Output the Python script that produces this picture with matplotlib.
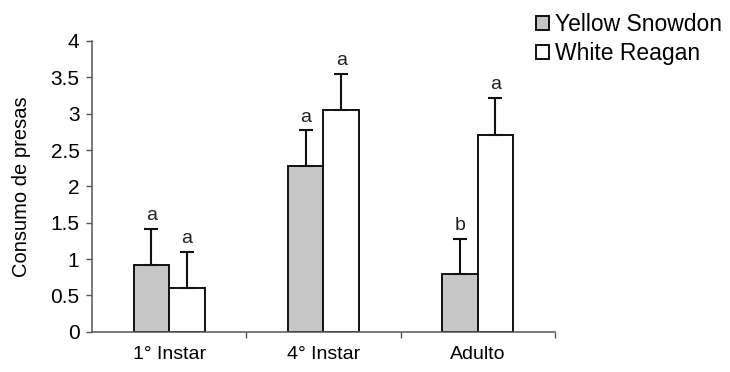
import numpy as np
import matplotlib.pyplot as plt
from matplotlib.patches import Patch

# values
stages = ['1° Instar', '4° Instar', 'Adulto']
series = ['Yellow Snowdon', 'White Reagan']
yellow_mean = [0.92, 2.28, 0.80]
yellow_err = [0.50, 0.49, 0.48]
white_mean = [0.60, 3.05, 2.70]
white_err = [0.50, 0.50, 0.52]
yellow_letters = ['a', 'a', 'b']
white_letters = ['a', 'a', 'a']

plt.rcParams['font.family'] = ['Liberation Sans', 'DejaVu Sans']

fig = plt.figure(figsize=(7.3, 3.72), dpi=100)
ax = fig.add_axes([0.126, 0.108, 0.634, 0.782])

x = np.arange(len(stages))
w = 0.23
gray = '#c6c6c6'
err_kw = dict(ecolor='#111111', elinewidth=1.5, capsize=5, capthick=1.5)

ax.bar(x - w / 2, yellow_mean, w, color=gray, edgecolor='#111111', linewidth=1.4,
       yerr=[np.zeros(3), yellow_err], error_kw=err_kw, zorder=2)
ax.bar(x + w / 2, white_mean, w, color='white', edgecolor='#111111', linewidth=1.4,
       yerr=[np.zeros(3), white_err], error_kw=err_kw, zorder=2)

for i in range(len(stages)):
    ax.text(x[i] - w / 2, yellow_mean[i] + yellow_err[i] + 0.06, yellow_letters[i],
            ha='center', va='bottom', fontsize=14, color='#222222')
    ax.text(x[i] + w / 2, white_mean[i] + white_err[i] + 0.06, white_letters[i],
            ha='center', va='bottom', fontsize=14, color='#222222')

ax.set_xlim(-0.5, 2.5)
ax.set_ylim(0, 4)
ax.set_yticks(np.arange(0, 4.01, 0.5))
ax.set_yticklabels(['0', '0.5', '1', '1.5', '2', '2.5', '3', '3.5', '4'])
ax.set_xticks(x)
ax.set_xticklabels(stages)
ax.set_xticks([0.5, 1.5, 2.5], minor=True)
ax.tick_params(axis='x', which='major', length=0, pad=10, labelsize=14)
ax.tick_params(axis='x', which='minor', length=4, width=1, direction='out', color='#555555')
ax.tick_params(axis='y', length=4, width=1, color='#555555', labelsize=15, pad=5)
ax.set_ylabel('Consumo de presas', fontsize=14.5, labelpad=14)

for s in ['top', 'right']:
    ax.spines[s].set_visible(False)
for s in ['left', 'bottom']:
    ax.spines[s].set_color('#555555')
    ax.spines[s].set_linewidth(1.1)

handles = [Patch(facecolor=gray, edgecolor='#111111', linewidth=1.4),
           Patch(facecolor='white', edgecolor='#111111', linewidth=1.4)]
fig.legend(handles, series, loc='upper left', bbox_to_anchor=(0.722, 0.99),
           frameon=False, fontsize=16.5, handlelength=0.55, handleheight=0.55,
           handletextpad=0.25, labelspacing=0.28, borderaxespad=0)

fig.savefig('out.png', dpi=100)
